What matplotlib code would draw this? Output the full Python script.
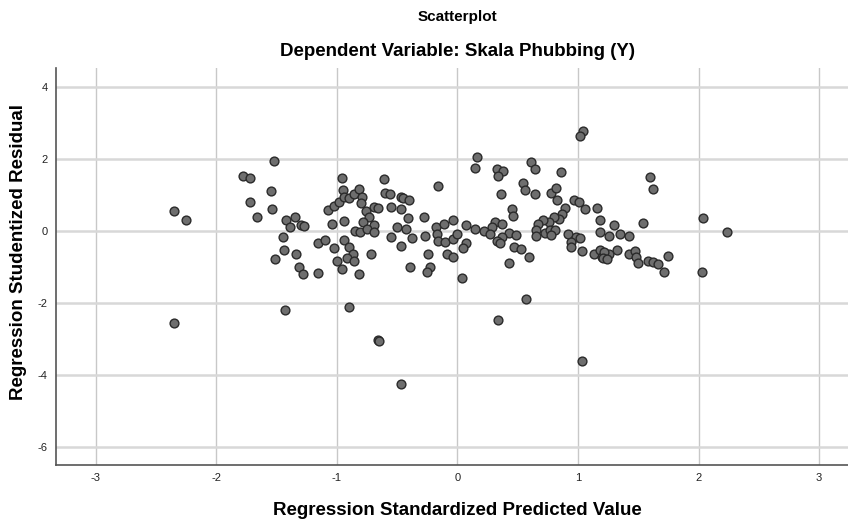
import matplotlib.pyplot as plt

# Regression standardized predicted value vs studentized residual
pred = [
    -2.35, -2.25, -2.35,
    -1.52, -1.78, -1.72, -1.55, -1.72, -1.54, -1.66, -1.42, -1.35, -1.39, -1.30, -1.27,
    -1.45, -1.44, -1.51, -1.34, -1.31, -1.28, -1.16, -1.16, -1.10, -1.07, -1.02, -0.98,
    -0.96, -0.95, -0.94, -0.90, -0.86, -1.04, -0.94, -0.85, -0.94, -0.90, -1.02, -0.87,
    -1.00, -0.92, -0.86, -0.96, -1.43, -0.90,
    0.16, 0.15, -0.61, -0.16, -0.82, -0.79, -0.80, -0.60, -0.56, -0.47, -0.45, -0.40,
    -0.69, -0.66, -0.55, -0.47, -0.76, -0.73, -0.78, -0.69, -0.41, -0.28, -0.81, -0.75,
    -0.69, -0.50, -0.43, -0.55, -0.38, -0.27, -0.18, -0.11, -0.04, -0.17, -0.16, -0.10,
    -0.04, 0.00, 0.07, 0.15, 0.07, 0.05, -0.47, -0.72, -0.24, -0.09, -0.04, -0.39,
    -0.23, -0.25, -0.82, 0.04,
    0.61, 0.64, 0.33, 0.38, 0.34, 0.86, 0.54, 0.56, 0.36, 0.64, 0.78, 0.82, 0.83, 0.97,
    1.01, 1.06, 1.16, 0.45, 0.46, 0.89, 0.87, 0.84, 0.80, 1.18, 0.76, 0.71, 0.67, 0.65,
    0.65, 0.73, 0.77, 0.81, 0.78, 0.31, 0.37, 0.29, 0.22, 0.27, 0.43, 0.49, 0.37, 0.33,
    0.35, 0.47, 0.53, 0.59, 0.43, 0.92, 0.98, 1.02, 0.94, 0.94, 1.03, 1.18, 1.13, 1.18,
    1.20, 0.57,
    1.60, 1.62, 2.04, 2.24, 2.03, 1.54, 1.30, 1.26, 1.35, 1.42, 1.32, 1.26, 1.22, 1.21,
    1.24, 1.42, 1.47, 1.48, 1.50, 1.58, 1.62, 1.66, 1.71, 1.75,
    1.04, 1.02, -0.66, -0.65, 0.34, -0.47, 1.03,
]
resid = [
    0.55, 0.31, -2.56,
    1.94, 1.54, 1.48, 1.11, 0.80, 0.60, 0.40, 0.31, 0.40, 0.11, 0.17, 0.13,
    -0.17, -0.52, -0.78, -0.63, -1.00, -1.19, -1.16, -0.32, -0.24, 0.58, 0.69, 0.81,
    1.48, 1.13, 0.94, 0.91, 1.02, 0.20, 0.28, 0.00, -0.24, -0.44, -0.48, -0.65,
    -0.83, -0.76, -0.83, -1.06, -2.20, -2.10,
    2.06, 1.74, 1.44, 1.25, 1.17, 0.94, 0.78, 1.06, 1.02, 0.94, 0.91, 0.85,
    0.67, 0.65, 0.68, 0.60, 0.57, 0.39, 0.26, 0.17, 0.37, 0.39, -0.04, 0.06,
    -0.02, 0.12, 0.06, -0.16, -0.18, -0.13, 0.12, 0.20, 0.31, -0.08, -0.27, -0.31,
    -0.23, -0.09, 0.17, 0.07, -0.32, -0.48, -0.41, -0.64, -0.65, -0.65, -0.71, -1.00,
    -1.00, -1.15, -1.20, -1.31,
    1.93, 1.71, 1.72, 1.67, 1.53, 1.65, 1.34, 1.14, 1.02, 1.04, 1.06, 1.19, 0.85, 0.86,
    0.81, 0.60, 0.65, 0.61, 0.42, 0.63, 0.47, 0.33, 0.39, 0.30, 0.24, 0.31, 0.19, 0.03,
    -0.13, -0.06, 0.04, 0.03, -0.11, 0.24, 0.19, 0.11, 0.00, -0.07, -0.05, -0.12, -0.17, -0.28,
    -0.33, -0.44, -0.50, -0.73, -0.89, -0.09, -0.16, -0.20, -0.30, -0.45, -0.56, -0.04, -0.65, -0.54,
    -0.73, -1.88,
    1.51, 1.16, 0.36, -0.04, -1.15, 0.22, 0.16, -0.13, -0.07, -0.13, -0.54, -0.63, -0.59, -0.74,
    -0.78, -0.65, -0.56, -0.71, -0.89, -0.82, -0.87, -0.91, -1.13, -0.68,
    2.79, 2.64, -3.02, -3.06, -2.47, -4.25, -3.62,
]

x_ticks = [-3, -2, -1, 0, 1, 2, 3]
y_ticks = [-6, -4, -2, 0, 2, 4]

plt.rcParams["font.family"] = ["Liberation Sans", "DejaVu Sans"]
plt.rcParams["axes.unicode_minus"] = False  # SPSS prints a plain hyphen

fig = plt.figure(figsize=(8.48, 5.21), dpi=100)
ax = fig.add_axes([0.066, 0.1075, 0.934, 0.762])

ax.set_xlim(-3.33, 3.24)
ax.set_ylim(-6.5, 4.53)
ax.set_xticks(x_ticks)
ax.set_yticks(y_ticks)
ax.tick_params(length=0, labelsize=8, pad=6, colors="#222222")

for v in x_ticks:
    ax.axvline(v, color="#c8c8c8", lw=1.0, zorder=0)
for v in y_ticks:
    ax.axhline(v, color="#d8d8d8", lw=1.8, zorder=0)

ax.scatter(pred, resid, s=40, facecolor="#6e6e6e", edgecolor="#2a2a2a",
           linewidth=1.0, zorder=3)

for side in ["top", "right"]:
    ax.spines[side].set_visible(False)
for side in ["left", "bottom"]:
    ax.spines[side].set_color("#555555")
    ax.spines[side].set_linewidth(1.2)

# titles and axis labels placed in figure coords, like the SPSS layout
fig.text(0.539, 0.021, "Regression Standardized Predicted Value", ha="center",
         va="center", fontsize=13.5, fontweight="bold")
fig.text(0.022, 0.517, "Regression Studentized Residual", ha="center",
         va="center", rotation=90, fontsize=13.5, fontweight="bold")
fig.text(0.539, 0.967, "Scatterplot", ha="center", va="center",
         fontsize=11, fontweight="bold")
fig.text(0.539, 0.902, "Dependent Variable: Skala Phubbing (Y)", ha="center",
         va="center", fontsize=13.5, fontweight="bold")

fig.savefig("out.png", dpi=100)
